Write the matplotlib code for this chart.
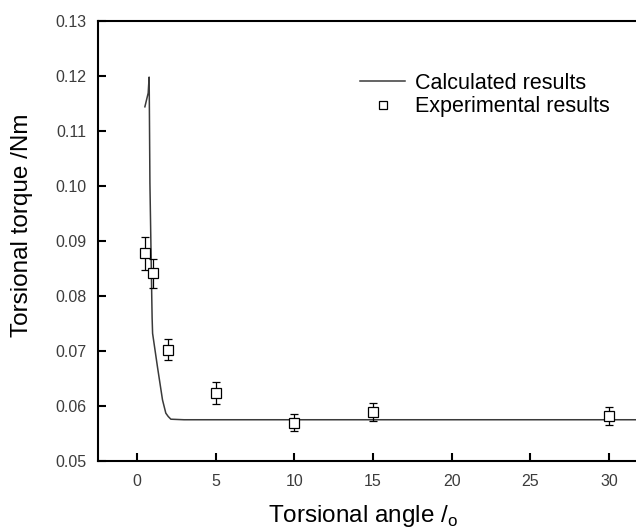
import numpy as np
from matplotlib import pyplot as plt

plt.rcParams["font.family"] = ["Liberation Sans", "DejaVu Sans"]
plt.rcParams["mathtext.fontset"] = "custom"
plt.rcParams["mathtext.rm"] = "Liberation Sans"

# calculated curve
calc_x = [0.51, 0.72, 0.78, 0.79, 0.83, 0.95, 0.97, 1.0, 1.31, 1.63, 1.84, 1.99, 2.16, 3.0, 31.8]
calc_y = [0.1144, 0.1169, 0.1198, 0.1165, 0.1005, 0.0793, 0.0760, 0.0732, 0.0671, 0.0611,
          0.0587, 0.0581, 0.0576, 0.0575, 0.0575]

# experimental results
exp_x = [0.5, 1, 2, 5, 10, 15, 30]
exp_y = [0.0878, 0.0841, 0.0702, 0.0623, 0.0570, 0.0589, 0.0582]
exp_err = [0.0030, 0.0027, 0.0019, 0.0020, 0.0016, 0.0016, 0.0016]

fig = plt.figure(figsize=(6.36, 5.29), dpi=100)
ax = fig.add_axes([97.5 / 636, 68 / 529, 541.5 / 636, 440 / 529])

ax.plot(calc_x, calc_y, color="#3a3a3a", lw=1.1, label="Calculated results")
ax.errorbar(exp_x, exp_y, yerr=exp_err, fmt="s", mfc="white", mec="black", mew=0.9,
            ms=7, ecolor="black", elinewidth=0.9, capsize=3, capthick=0.9,
            label="Experimental results")

ax.set_xlim(-2.5, 31.9)
ax.set_ylim(0.05, 0.13)
ax.set_xticks([0, 5, 10, 15, 20, 25, 30])
ax.set_yticks(np.arange(0.05, 0.1301, 0.01))
ax.yaxis.set_major_formatter(plt.FormatStrFormatter("%.2f"))
ax.tick_params(direction="in", length=6, width=1.5, labelsize=11.5, labelcolor="#3c3c3c")
ax.tick_params(axis="y", pad=8)
ax.tick_params(axis="x", pad=9.5)

for s in ax.spines.values():
    s.set_linewidth(1.5)

ax.set_xlabel(r"Torsional angle /$_{\mathregular{o}}$", fontsize=17.5)
ax.set_ylabel("Torsional torque /Nm", fontsize=17.5)
ax.xaxis.set_label_coords(0.49, -0.095)
ax.yaxis.set_label_coords(-0.119, 0.536)

h, l = ax.get_legend_handles_labels()
h[1] = plt.Line2D([], [], ls="none", marker="s", mfc="white", mec="black", ms=5.5, mew=0.9)
fig.legend(h, l, loc="upper left", bbox_to_anchor=(360 / 636, 1 - 73 / 529), frameon=False,
           borderpad=0, borderaxespad=0, fontsize=15.5, handlelength=2.1,
           handletextpad=0.45, labelspacing=0.1)

plt.savefig("out.png", dpi=100)
